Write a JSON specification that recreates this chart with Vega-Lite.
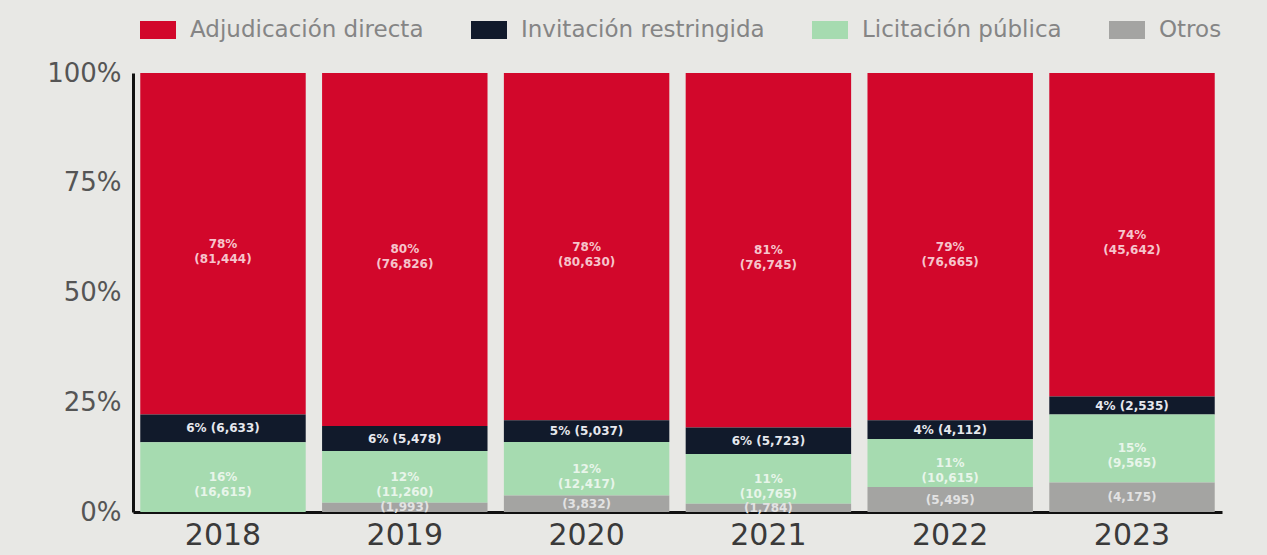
{
  "$schema": "https://vega.github.io/schema/vega-lite/v6.json",
  "width": 1089,
  "height": 439,
  "autosize": {"type": "none"},
  "padding": {"left": 133, "top": 73, "right": 45, "bottom": 43},
  "background": "#e8e8e5",
  "config": {
    "view": {"stroke": null},
    "font": "DejaVu Sans"
  },
  "data": {
    "values": [
      {"year": "2018", "cat": "Adjudicación directa", "ord": 4, "n": 81444, "label": "78%\n(81,444)"},
      {"year": "2018", "cat": "Invitación restringida", "ord": 3, "n": 6633, "label": "6% (6,633)"},
      {"year": "2018", "cat": "Licitación pública", "ord": 2, "n": 16615, "label": "16%\n(16,615)"},
      {"year": "2019", "cat": "Adjudicación directa", "ord": 4, "n": 76826, "label": "80%\n(76,826)"},
      {"year": "2019", "cat": "Invitación restringida", "ord": 3, "n": 5478, "label": "6% (5,478)"},
      {"year": "2019", "cat": "Licitación pública", "ord": 2, "n": 11260, "label": "12%\n(11,260)"},
      {"year": "2019", "cat": "Otros", "ord": 1, "n": 1993, "label": "(1,993)"},
      {"year": "2020", "cat": "Adjudicación directa", "ord": 4, "n": 80630, "label": "78%\n(80,630)"},
      {"year": "2020", "cat": "Invitación restringida", "ord": 3, "n": 5037, "label": "5% (5,037)"},
      {"year": "2020", "cat": "Licitación pública", "ord": 2, "n": 12417, "label": "12%\n(12,417)"},
      {"year": "2020", "cat": "Otros", "ord": 1, "n": 3832, "label": "(3,832)"},
      {"year": "2021", "cat": "Adjudicación directa", "ord": 4, "n": 76745, "label": "81%\n(76,745)"},
      {"year": "2021", "cat": "Invitación restringida", "ord": 3, "n": 5723, "label": "6% (5,723)"},
      {"year": "2021", "cat": "Licitación pública", "ord": 2, "n": 10765, "label": "11%\n(10,765)"},
      {"year": "2021", "cat": "Otros", "ord": 1, "n": 1784, "label": "(1,784)"},
      {"year": "2022", "cat": "Adjudicación directa", "ord": 4, "n": 76665, "label": "79%\n(76,665)"},
      {"year": "2022", "cat": "Invitación restringida", "ord": 3, "n": 4112, "label": "4% (4,112)"},
      {"year": "2022", "cat": "Licitación pública", "ord": 2, "n": 10615, "label": "11%\n(10,615)"},
      {"year": "2022", "cat": "Otros", "ord": 1, "n": 5495, "label": "(5,495)"},
      {"year": "2023", "cat": "Adjudicación directa", "ord": 4, "n": 45642, "label": "74%\n(45,642)"},
      {"year": "2023", "cat": "Invitación restringida", "ord": 3, "n": 2535, "label": "4% (2,535)"},
      {"year": "2023", "cat": "Licitación pública", "ord": 2, "n": 9565, "label": "15%\n(9,565)"},
      {"year": "2023", "cat": "Otros", "ord": 1, "n": 4175, "label": "(4,175)"}
    ]
  },
  "transform": [
    {"stack": "n", "groupby": ["year"], "sort": [{"field": "ord", "order": "ascending"}], "as": ["y0", "y1"], "offset": "normalize"},
    {"calculate": "(datum.y0 + datum.y1) / 2", "as": "ym"}
  ],
  "encoding": {
    "x": {
      "field": "year", "type": "nominal", "title": null,
      "scale": {"paddingInner": 0.09, "paddingOuter": 0.04},
      "axis": {"labelAngle": 0, "labelFontSize": 30, "labelColor": "#3a3a3a", "labelPadding": 8, "ticks": false, "domainColor": "#111111", "domainWidth": 3}
    }
  },
  "layer": [
    {
      "mark": {"type": "bar"},
      "encoding": {
        "y": {
          "field": "y0", "type": "quantitative", "title": null,
          "scale": {"domain": [0, 1], "nice": false},
          "axis": {"format": ".0%", "values": [0, 0.25, 0.5, 0.75, 1], "labelFontSize": 26, "labelColor": "#555555", "labelPadding": 12, "ticks": false, "grid": false, "domainColor": "#111111", "domainWidth": 3}
        },
        "y2": {"field": "y1"},
        "color": {
          "field": "cat", "type": "nominal", "title": null,
          "scale": {
            "domain": ["Adjudicación directa", "Invitación restringida", "Licitación pública", "Otros"],
            "range": ["#d2072b", "#111a2b", "#a6dbb0", "#a4a4a2"]
          },
          "legend": {
            "orient": "none", "direction": "horizontal", "columns": 4,
            "legendX": 7, "legendY": -61,
            "symbolType": "M-1,-0.5H1V0.5H-1Z", "symbolSize": 1296, "symbolStrokeWidth": 0, "symbolOpacity": 1,
            "labelFontSize": 23, "labelLimit": 400, "labelColor": "#858585", "labelOffset": 14, "columnPadding": 47
          }
        }
      }
    },
    {
      "mark": {"type": "text", "fontSize": 12, "fontWeight": "bold", "lineBreak": "\n", "lineHeight": 15, "baseline": "middle"},
      "encoding": {
        "y": {"field": "ym", "type": "quantitative", "scale": {"domain": [0, 1], "nice": false}},
        "text": {"field": "label"},
        "color": {
          "field": "cat", "type": "nominal", "legend": null,
          "scale": {
            "domain": ["Adjudicación directa", "Invitación restringida", "Licitación pública", "Otros"],
            "range": ["#f6c4cc", "#e6e8ee", "#e8f5ea", "#e2e2e2"]
          }
        }
      }
    }
  ],
  "resolve": {"scale": {"color": "independent"}}
}
